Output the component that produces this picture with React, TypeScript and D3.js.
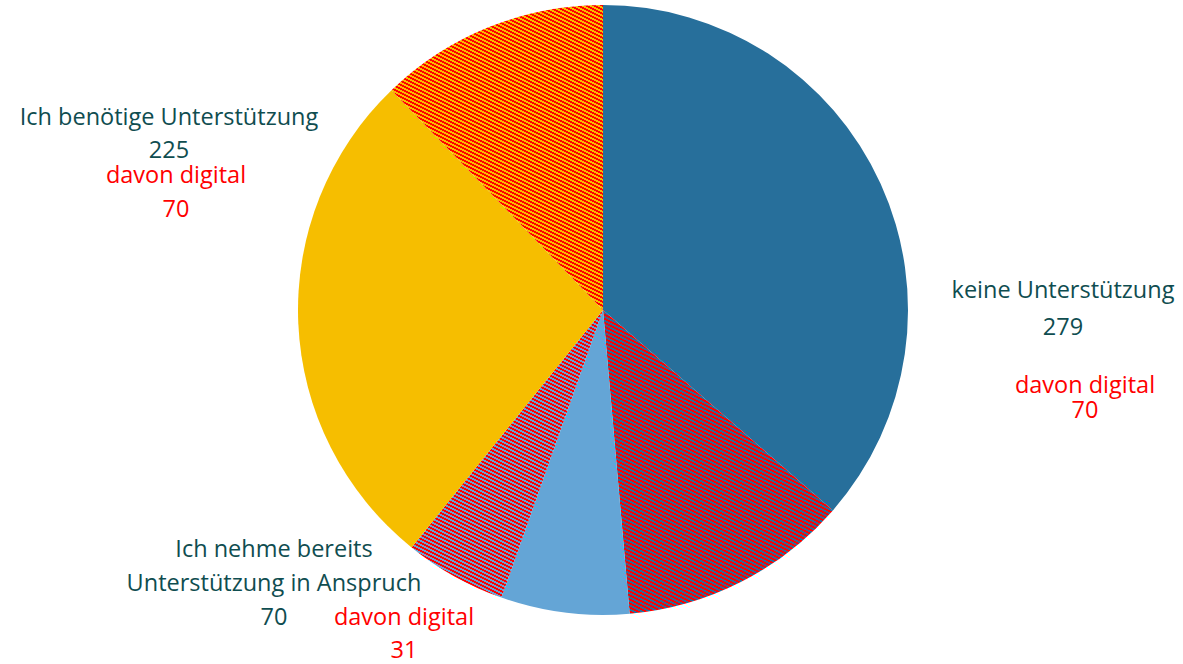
import { useEffect, useRef } from "react";
import * as d3 from "d3";

// slices clockwise from 12 o'clock; the hatched ones are the "davon digital" parts
const sliceNames = [
  "keine Unterstützung",
  "keine Unterstützung digital",
  "Ich nehme bereits Unterstützung in Anspruch",
  "Ich nehme bereits Unterstützung in Anspruch digital",
  "Ich benötige Unterstützung",
  "Ich benötige Unterstützung digital",
];
const sliceValues = [209, 70, 39, 31, 155, 70];
const sliceColors = ["#276F9B", "#276F9B", "#64A5D6", "#64A5D6", "#F6BE00", "#F6BE00"];
const sliceHatched = [false, true, false, true, false, true];

const groupLabels = [
  { lines: ["keine Unterstützung", "279"], x: 1063, y: 298, lh: 37 },
  { lines: ["Ich benötige Unterstützung", "225"], x: 169, y: 125, lh: 33 },
  { lines: ["Ich nehme bereits", "Unterstützung in Anspruch", "70"], x: 274, y: 557, lh: 34 },
];
const digitalLabels = [
  { lines: ["davon digital", "70"], x: 1085, y: 393, lh: 25 },
  { lines: ["davon digital", "70"], x: 176, y: 183, lh: 34 },
  { lines: ["davon digital", "31"], x: 404, y: 625, lh: 33 },
];

export default function App() {
  const svgRef = useRef<SVGSVGElement>(null);
  const width = 1183;
  const height = 664;

  useEffect(() => {
    if (!svgRef.current) return;
    const svg = d3.select(svgRef.current);
    svg.selectAll("*").remove();
    svg.attr("width", width).attr("height", height);

    const cx = 603;
    const cy = 310;
    const radius = 305;

    // hatch patterns: pixel stair-step red stripes over the slice colour (8x4 tile)
    const defs = svg.append("defs");
    sliceColors.forEach((c, i) => {
      if (!sliceHatched[i]) return;
      const p = defs
        .append("pattern")
        .attr("id", `hatch-${i}`)
        .attr("patternUnits", "userSpaceOnUse")
        .attr("x", cx)
        .attr("y", cy)
        .attr("width", 8)
        .attr("height", 4);
      p.append("rect").attr("width", 8).attr("height", 4).attr("fill", c);
      for (let r = 0; r < 4; r++) {
        const x0 = 2 * r;
        const w1 = Math.min(4, 8 - x0);
        p.append("rect").attr("x", x0).attr("y", r).attr("width", w1).attr("height", 1).attr("fill", "#FF0000");
        if (w1 < 4) {
          p.append("rect").attr("x", 0).attr("y", r).attr("width", 4 - w1).attr("height", 1).attr("fill", "#FF0000");
        }
      }
    });

    const pie = d3
      .pie<number>()
      .sort(null)
      .value((d) => d);
    const arc = d3
      .arc<d3.PieArcDatum<number>>()
      .innerRadius(0)
      .outerRadius(radius);

    const g = svg.append("g").attr("transform", `translate(${cx},${cy})`);
    g.selectAll("path")
      .data(pie(sliceValues))
      .join("path")
      .attr("d", arc)
      .attr("fill", (_, i) => (sliceHatched[i] ? `url(#hatch-${i})` : sliceColors[i]))
      .append("title")
      .text((_, i) => sliceNames[i]);

    const font = "Open Sans, sans-serif";
    const drawLabel = (
      l: { lines: string[]; x: number; y: number; lh: number },
      color: string
    ) => {
      const t = svg
        .append("text")
        .attr("text-anchor", "middle")
        .attr("font-family", font)
        .attr("font-size", "23.5px")
        .attr("fill", color);
      l.lines.forEach((s, j) => {
        t.append("tspan").attr("x", l.x).attr("y", l.y + j * l.lh).text(s);
      });
    };
    groupLabels.forEach((l) => drawLabel(l, "#0F4D50"));
    digitalLabels.forEach((l) => drawLabel(l, "#FF0000"));
  }, []);

  return <svg ref={svgRef} style={{ position: "absolute", left: 0, top: 0 }} />;
}
